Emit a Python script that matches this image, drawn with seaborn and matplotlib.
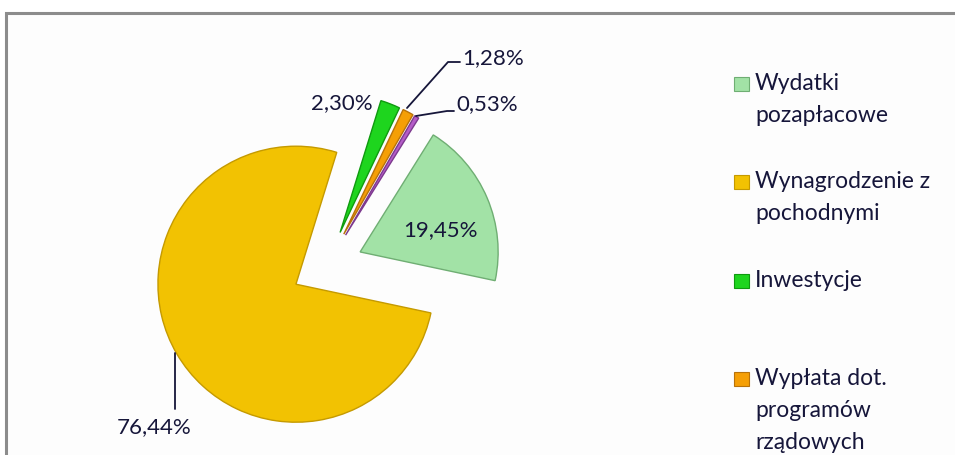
import matplotlib
matplotlib.use("Agg")
import matplotlib.pyplot as plt
import seaborn as sns
from matplotlib.patches import Rectangle

# ---- data ----
categories = ["Wydatki pozapłacowe", "Wynagrodzenie z pochodnymi", "Inwestycje",
              "Wypłata dot. programów rządowych", "Pozostałe"]
shares = [19.45, 76.44, 2.30, 1.28, 0.53]
value_labels = ["19,45%", "76,44%", "2,30%", "1,28%", "0,53%"]
legend_labels = ["Wydatki\npozapłacowe", "Wynagrodzenie z\npochodnymi", "Inwestycje",
                 "Wypłata dot.\nprogramów\nrządowych"]

colors = ["#a2e2a6", "#f2c202", "#1ed51e", "#f59f06", "#b45cc8"]
edges = ["#6fae73", "#c59a00", "#0f9a0f", "#b8720a", "#7d3a8e"]

sns.set_theme(style="white")
plt.rcParams["font.family"] = ["Lato", "DejaVu Sans"]

W, H = 955, 455
fig = plt.figure(figsize=(W / 100, H / 100), dpi=100)
fig.patch.set_facecolor("white")
ax = fig.add_axes([0, 0, 1, 1])

def Y(y):  # top-based pixel -> data
    return H - y

center = (327, Y(266))
radius = 138
wedges, _ = ax.pie(shares, colors=colors, startangle=58, counterclock=False,
                   explode=[36] * len(shares), center=center, radius=radius,
                   wedgeprops=dict(linewidth=1.0), frame=True)
for w, ec in zip(wedges, edges):
    w.set_edgecolor(ec)
    w.set_zorder(2)
ax.set_xlim(0, W)
ax.set_ylim(0, H)
ax.set_aspect("equal")
ax.axis("off")

# chart frame
ax.add_patch(Rectangle((6, -20), W + 20, Y(13) + 20, facecolor="#fdfdfd",
                       edgecolor="#8c8c8c", linewidth=2.2, zorder=0))

txt = "#16163a"
fs = 16
ax.text(440, Y(230), value_labels[0], ha="center", va="center", fontsize=fs, color=txt, zorder=5)
ax.text(154, Y(427), value_labels[1], ha="center", va="center", fontsize=fs, color=txt, zorder=5)
ax.text(373, Y(103), value_labels[2], ha="right", va="center", fontsize=fs, color=txt, zorder=5)
ax.text(462, Y(58), value_labels[3], ha="left", va="center", fontsize=fs, color=txt, zorder=5)
ax.text(456, Y(104), value_labels[4], ha="left", va="center", fontsize=fs, color=txt, zorder=5)

# leader lines
lc = "#16163a"
ax.plot([175, 175], [Y(353), Y(409)], color=lc, lw=1.3, zorder=4)
ax.plot([407, 448, 460], [Y(108), Y(62), Y(62)], color=lc, lw=1.3, zorder=4)
ax.plot([416, 447, 454], [Y(116), Y(111), Y(111)], color=lc, lw=1.3, zorder=4)

# legend (manual, Excel-like slots)
for i, lab in enumerate(legend_labels):
    base = 90 + 98.3 * i
    ax.add_patch(Rectangle((734, Y(base) - 1), 15, 14, facecolor=colors[i],
                           edgecolor=edges[i], linewidth=0.8, zorder=5))
    for j, line in enumerate(lab.split("\n")):
        ax.text(755, Y(base + 32 * j), line, ha="left", va="baseline",
                fontsize=16.5, color=txt, zorder=5)

fig.savefig("out.png", dpi=100)
